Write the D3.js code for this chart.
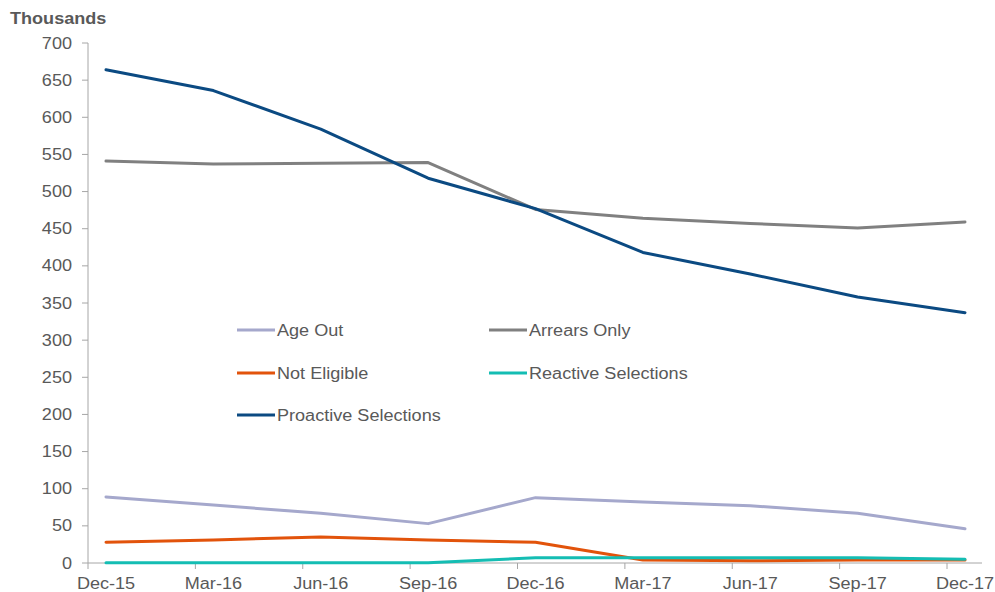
<!DOCTYPE html>
<html><head><meta charset="utf-8">
<script src="https://cdn.jsdelivr.net/npm/d3@7"></script>
<style>body{margin:0;background:#fff}svg{display:block;font-family:"Liberation Sans",Arial,sans-serif}</style>
</head><body><svg id="c" width="995" height="592"></svg>
<script>
const categories = ["Dec-15","Mar-16","Jun-16","Sep-16","Dec-16","Mar-17","Jun-17","Sep-17","Dec-17"];
const yTicks = [0,50,100,150,200,250,300,350,400,450,500,550,600,650,700];
const ageOut = [89,78,67,53,88,82,77,67,46];
const arrearsOnly = [541,537,538,539,476,464,457,451,459];
const notEligible = [28,31,35,31,28,4,3,4,4];
const reactiveSelections = [0.5,0.5,0.5,0.5,7,7,7,7,5];
const proactiveSelections = [664,636,584,518,477,418,389,358,337];
const seriesNames = ["Age Out","Arrears Only","Not Eligible","Reactive Selections","Proactive Selections"];
const seriesColors = ["#a5a8cc","#808080","#e2530b","#14bdb3","#0b4a82"];
const seriesData = [ageOut, arrearsOnly, notEligible, reactiveSelections, proactiveSelections];
const drawOrder = [0,2,3,1,4];

const svg = d3.select("#c");
const axisColor = "#a6a6a6", textColor = "#595959";
const SX = 1.13; // horizontal text stretch
const x0 = 88, x1 = 982, yTop = 43, yBot = 563;
const x = d3.scalePoint().domain(categories).range([106, 965]);
const y = d3.scaleLinear().domain([0,700]).range([yBot, yTop]);

function txt(g, tx, ty, s, anchor, opts) {
  const t = g.append("text").attr("transform",`translate(${tx},${ty}) scale(${SX},1)`)
    .attr("text-anchor",anchor||"start").attr("fill",textColor).style("font-size","16px").text(s);
  if (opts && opts.bold) t.style("font-weight","bold");
  return t;
}

// y axis
const ya = svg.append("g");
ya.append("line").attr("x1",x0).attr("x2",x0).attr("y1",yTop).attr("y2",yBot).attr("stroke",axisColor);
yTicks.forEach(v => {
  ya.append("line").attr("x1",x0-6).attr("x2",x0).attr("y1",y(v)).attr("y2",y(v)).attr("stroke",axisColor);
  txt(ya, 72, y(v)+5.5, String(v), "end");
});

// x axis
const xg = svg.append("g");
xg.append("line").attr("x1",x0).attr("x2",x1).attr("y1",yBot).attr("y2",yBot).attr("stroke",axisColor);
categories.forEach(c => {
  const tx = x(c) - 18;
  xg.append("line").attr("x1",tx).attr("x2",tx).attr("y1",yBot).attr("y2",yBot+6).attr("stroke",axisColor);
  txt(xg, x(c), yBot+26, c, "middle");
});

// title
txt(svg, 10, 24, "Thousands", "start", {bold:true});

// lines
const line = d3.line().x((d,i)=>x(categories[i])).y(d=>y(d));
drawOrder.forEach(k => {
  svg.append("path").datum(seriesData[k]).attr("d",line)
    .attr("fill","none").attr("stroke",seriesColors[k]).attr("stroke-width",3)
    .attr("stroke-linejoin","round").attr("stroke-linecap","round");
});

// legend
const legPos = [[237,330],[489,330],[237,373],[489,373],[237,415]];
seriesNames.forEach((n,k) => {
  const [lx,ly] = legPos[k];
  svg.append("line").attr("x1",lx).attr("x2",lx+38).attr("y1",ly).attr("y2",ly)
    .attr("stroke",seriesColors[k]).attr("stroke-width",3);
  txt(svg, lx+40, ly+6, n, "start");
});
</script></body></html>
